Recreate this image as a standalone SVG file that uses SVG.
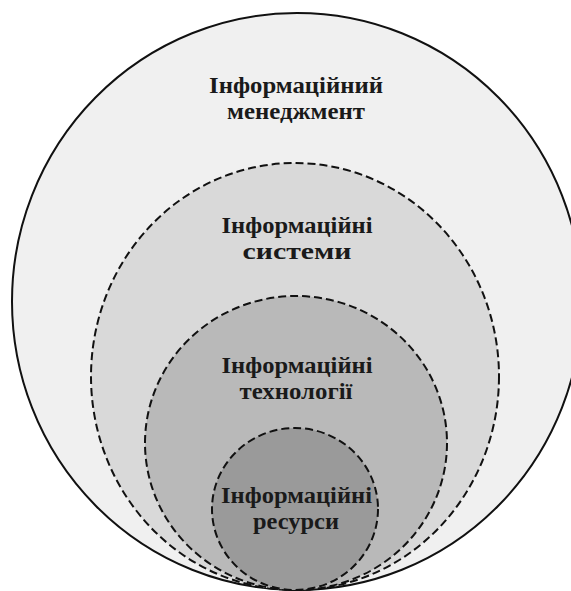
<svg xmlns="http://www.w3.org/2000/svg" width="571" height="591" viewBox="0 0 571 591">
<style>
.lbl{font-family:"Liberation Serif","DejaVu Serif",serif;font-weight:bold;font-size:23px;fill:#1a1a1a;text-anchor:middle}
.dash{stroke:#111;stroke-width:2;stroke-dasharray:8 4;}
</style>
<rect width="571" height="591" fill="#ffffff"/>
<g id="management">
<ellipse cx="297" cy="301.5" rx="285" ry="288.5" fill="#f0f0f0" stroke="#111" stroke-width="2"/>
<text class="lbl" x="296" y="93" textLength="174" lengthAdjust="spacingAndGlyphs">Інформаційний</text>
<text class="lbl" x="296" y="119" textLength="138" lengthAdjust="spacingAndGlyphs">менеджмент</text>
</g>
<g id="systems">
<ellipse class="dash" cx="295" cy="376.5" rx="204" ry="213.5" fill="#d9d9d9"/>
<text class="lbl" x="297" y="233" textLength="151" lengthAdjust="spacingAndGlyphs">Інформаційні</text>
<text class="lbl" x="297" y="259" textLength="109" lengthAdjust="spacingAndGlyphs">системи</text>
</g>
<g id="technologies">
<ellipse class="dash" cx="296" cy="443" rx="151" ry="147" fill="#b9b9b9"/>
<text class="lbl" x="297" y="373" textLength="151" lengthAdjust="spacingAndGlyphs">Інформаційні</text>
<text class="lbl" x="296" y="399" textLength="113" lengthAdjust="spacingAndGlyphs">технології</text>
</g>
<g id="resources">
<ellipse class="dash" cx="295" cy="509" rx="83" ry="81" fill="#9a9a9a"/>
<text class="lbl" x="296.5" y="503" textLength="151" lengthAdjust="spacingAndGlyphs">Інформаційні</text>
<text class="lbl" x="296" y="529" textLength="86" lengthAdjust="spacingAndGlyphs">ресурси</text>
</g>
<g id="connectors"></g>
</svg>
